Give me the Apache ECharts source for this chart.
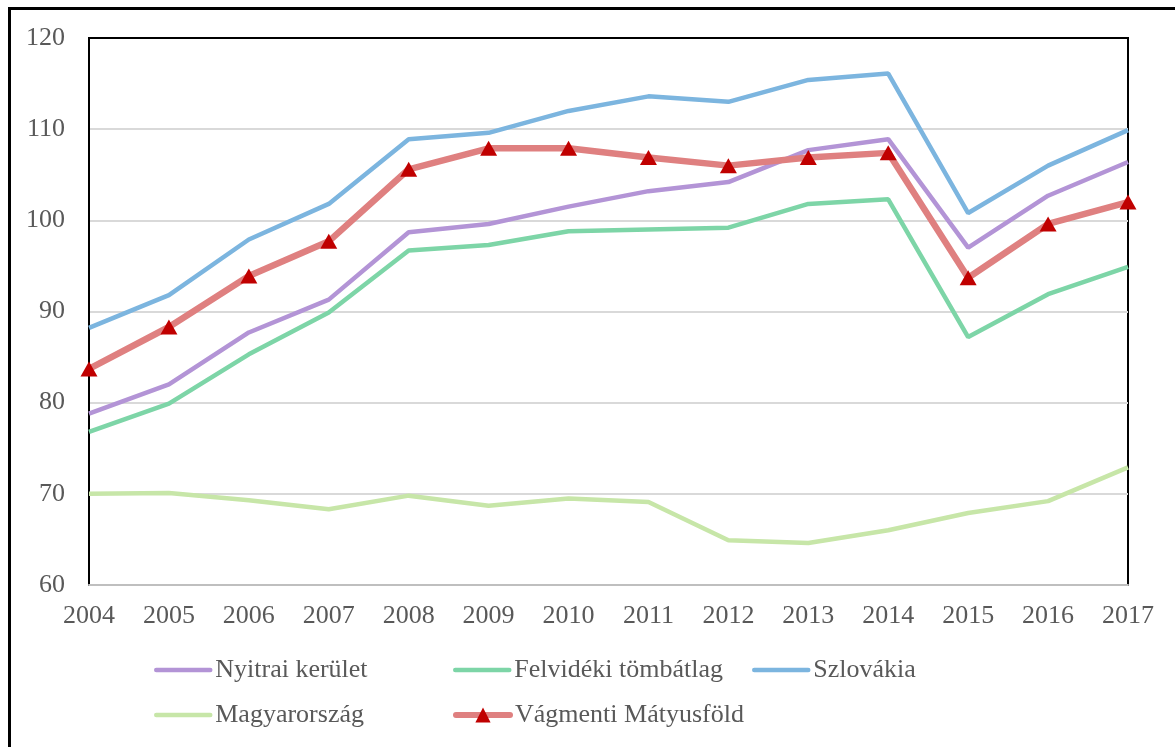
<!DOCTYPE html>
<html>
<head>
<meta charset="utf-8">
<script src="https://cdn.jsdelivr.net/npm/echarts@6/dist/echarts.min.js"></script>
<style>
  html, body { margin: 0; padding: 0; background: #fff; }
  #chart { width: 1175px; height: 747px; }
</style>
</head>
<body>
<div id="chart"></div>
<script>
var years = ['2004', '2005', '2006', '2007', '2008', '2009', '2010', '2011', '2012', '2013', '2014', '2015', '2016', '2017'];

var nyitrai = [78.8, 82.0, 87.7, 91.3, 98.7, 99.6, 101.5, 103.2, 104.2, 107.7, 108.9, 97.0, 102.7, 106.4];
var felvideki = [76.8, 79.9, 85.3, 89.9, 96.7, 97.3, 98.8, 99.0, 99.2, 101.8, 102.3, 87.2, 91.9, 94.9];
var szlovakia = [88.2, 91.8, 97.9, 101.8, 108.9, 109.6, 112.0, 113.6, 113.0, 115.4, 116.1, 100.8, 106.0, 109.9];
var magyarorszag = [70.0, 70.1, 69.3, 68.3, 69.8, 68.7, 69.5, 69.1, 64.9, 64.6, 66.0, 67.9, 69.2, 72.9];
var vagmenti = [83.7, 88.3, 93.9, 97.7, 105.6, 107.9, 107.9, 106.9, 106.0, 106.9, 107.4, 93.7, 99.6, 102.0];

var names = ['Nyitrai kerület', 'Felvidéki tömbátlag', 'Szlovákia', 'Magyarország', 'Vágmenti Mátyusföld'];
var colors = ['#b394d6', '#7dd5a7', '#7cb5df', '#c7e6a8', '#df8080'];

var myChart = echarts.init(document.getElementById('chart'));

var font = '"Liberation Serif", "Times New Roman", serif';

// egy legenda elemenként, hogy az oszlopok a helyükön legyenek
var legendPos = [[154, 657], [453, 657], [752, 657], [154, 702], [453, 702]];
var legends = names.map(function (n, i) {
    var isRed = i === 4;
    return {
        data: [n],
        left: legendPos[i][0],
        top: legendPos[i][1],
        itemWidth: 54,
        itemHeight: 19,
        itemGap: 0,
        padding: 0,
        itemStyle: { opacity: isRed ? 1 : 0 },
        lineStyle: { width: isRed ? 6 : 4.5, cap: 'round' },
        textStyle: { fontFamily: font, fontSize: 26, color: '#595959' }
    };
});

var lineData = [nyitrai, felvideki, szlovakia, magyarorszag, vagmenti];
var series = lineData.map(function (d, i) {
    var isRed = i === 4;
    return {
        name: names[i],
        type: 'line',
        data: d,
        symbol: isRed ? 'triangle' : 'none',
        symbolSize: [17, 15],
        showSymbol: isRed,
        itemStyle: { color: isRed ? '#c00000' : colors[i] },
        lineStyle: { color: colors[i], width: isRed ? 6.5 : 4.5 },
        emphasis: { disabled: true },
        animation: false
    };
});

var option = {
    backgroundColor: '#fff',
    animation: false,
    grid: {
        left: 89,
        right: 47,
        top: 38,
        bottom: 162,
        show: true,
        borderColor: '#000',
        borderWidth: 2
    },
    legend: legends,
    xAxis: {
        type: 'category',
        data: years,
        boundaryGap: false,
        axisLine: { lineStyle: { color: '#bfbfbf', width: 2 } },
        axisTick: { show: false },
        axisLabel: { fontFamily: font, fontSize: 26, color: '#595959', margin: 18 }
    },
    yAxis: {
        type: 'value',
        min: 60,
        max: 120,
        interval: 10,
        axisLine: { show: true, lineStyle: { color: '#000', width: 2 } },
        axisTick: { show: false },
        splitLine: { showMaxLine: false, lineStyle: { color: '#d9d9d9', width: 2 } },
        axisLabel: { fontFamily: font, fontSize: 26, color: '#595959', margin: 24 }
    },
    graphic: [{
        type: 'rect',
        shape: { x: 9.5, y: 8.5, width: 1200, height: 800 },
        style: { fill: 'none', stroke: '#000', lineWidth: 3 },
        silent: true
    }],
    series: series
};

myChart.setOption(option);
</script>
</body>
</html>
